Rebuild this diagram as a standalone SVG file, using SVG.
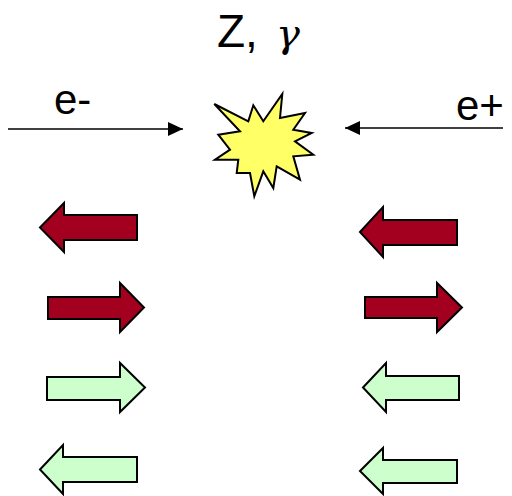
<svg xmlns="http://www.w3.org/2000/svg" width="512" height="496" viewBox="0 0 512 496">
  <style>
    .lbl { font-family: "Liberation Sans", Arial, sans-serif; fill: #000; }
    .red { fill: #A3001F; stroke: #000; stroke-width: 2; stroke-linejoin: miter; }
    .grn { fill: #CCFFCC; stroke: #000; stroke-width: 2; stroke-linejoin: miter; }
    .beam { stroke: #000; stroke-width: 1.4; fill: none; }
  </style>
  <defs>
    <marker id="ah" markerUnits="userSpaceOnUse" markerWidth="16" markerHeight="14" refX="15" refY="7" orient="auto">
      <path d="M0,0 L15,7 L0,14 Z" fill="#000"/>
    </marker>
  </defs>
  <rect width="512" height="496" fill="#fff"/>

  <g id="title">
    <text class="lbl" x="217" y="47" font-size="46">Z,<tspan x="276" font-size="40" font-style="italic" font-family="'DejaVu Serif', 'Liberation Serif', serif">γ</tspan></text>
  </g>

  <g id="label-eminus">
    <text class="lbl" x="54" y="114" font-size="42">e-</text>
  </g>
  <g id="label-eplus">
    <text class="lbl" x="456" y="120" font-size="42">e+</text>
  </g>

  <g id="collision">
    <polygon points="214.3,104 248.3,121.3 253.3,105.3 263.3,121.3 282.3,94 280,118 305,113 293.3,129.7 311.7,133 295,141.3 313.3,154.7 293.3,156.3 300,179.7 276.7,166.3 273.3,188 263.3,171.3 254.3,196.3 250,173 236.7,173 238.3,159.7 215,159.7 230,149.7 218.3,134.7 240,131.3" fill="#FFFF66" stroke="#000" stroke-width="2" stroke-linejoin="miter"/>
  </g>

  <g id="connectors">
    <line class="beam" x1="8" y1="129" x2="183" y2="129" marker-end="url(#ah)"/>
    <line class="beam" x1="503" y1="128" x2="345" y2="128" marker-end="url(#ah)"/>
  </g>

  <g id="left-red-1"><polygon class="red" points="40,227.5 64,203 64,215 137,215 137,240 64,240 64,252"/></g>
  <g id="left-red-2"><polygon class="red" points="48,297 120,297 120,283 144,307.5 120,332 120,319 48,319"/></g>
  <g id="left-green-1"><polygon class="grn" points="47,377 120,377 120,363 145,387.5 120,412 120,400 47,400"/></g>
  <g id="left-green-2"><polygon class="grn" points="40,469.5 63,445 63,457 137,457 137,482 63,482 63,494"/></g>

  <g id="right-red-1"><polygon class="red" points="360,232 383,207 383,220 457,220 457,245 383,245 383,257"/></g>
  <g id="right-red-2"><polygon class="red" points="365,297 437,297 437,283 462,307.5 437,332 437,318 365,318"/></g>
  <g id="right-green-1"><polygon class="grn" points="363,387.5 386,363 386,376 459,376 459,400 386,400 386,412"/></g>
  <g id="right-green-2"><polygon class="grn" points="360,471 383,448 383,460 457,460 457,483 383,483 383,494"/></g>
</svg>
